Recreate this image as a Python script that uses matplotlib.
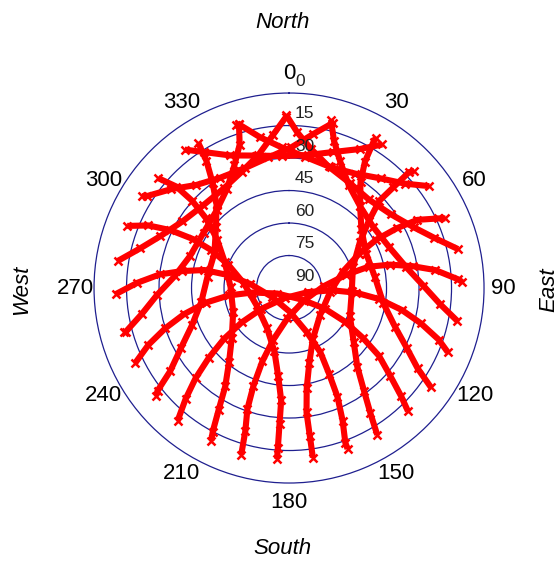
import matplotlib
matplotlib.use("Agg")
import matplotlib.pyplot as plt
import numpy as np

# satellite tracks, azimuth (deg, clockwise from north) and elevation (deg)
az_tracks = [
    [172, 172, 172, 170, 165, 155, 131, 96, 73, 64, 61, 61, 62, 65, 66],
    [343, 341, 336, 328, 317, 303, 288, 276, 267, 260, 255, 255],
    [149, 147, 144, 139, 130, 115, 93, 72, 57, 50, 46, 46, 46, 47],
    [328, 327, 324, 319, 310, 295, 278, 261, 249, 241, 235, 232, 231],
    [125, 122, 117, 110, 99, 83, 66, 51, 41, 34, 31, 30, 30],
    [310, 312, 312, 310, 304, 292, 271, 247, 229, 219, 213, 210, 208, 207],
    [101, 96, 89, 80, 68, 54, 41, 30, 22, 17, 14],
    [291, 294, 296, 297, 296, 291, 276, 242, 209, 193, 187, 184, 184, 184, 184],
    [77, 71, 64, 54, 42, 30, 18, 9, 3, 359],
    [268, 272, 276, 279, 282, 282, 276, 244, 178, 158, 154, 155, 156, 158, 160, 160],
    [54, 48, 40, 30, 19, 7, 357, 349, 343, 342],
    [244, 248, 252, 256, 260, 263, 263, 245, 132, 120, 121, 124, 127, 131, 134, 136],
    [33, 27, 18, 8, 357, 346, 336, 328, 323],
    [220, 223, 226, 229, 232, 234, 233, 203, 102, 93, 94, 97, 101, 105, 109, 112],
    [15, 9, 1, 351, 340, 328, 318, 310, 303, 302],
    [196, 197, 199, 200, 200, 197, 183, 130, 87, 77, 75, 77, 80, 83, 87, 88],
    [359, 354, 347, 338, 327, 314, 302, 292, 285, 279],
]
el_tracks = [
    [11, 21, 32, 43, 54, 64, 71, 71, 64, 54, 44, 33, 23, 14, 11],
    [11, 20, 28, 36, 41, 43, 42, 37, 29, 21, 12, 11],
    [11, 21, 31, 42, 51, 59, 61, 59, 51, 42, 32, 23, 13, 11],
    [11, 20, 30, 39, 46, 52, 52, 49, 42, 33, 23, 13, 11],
    [10, 20, 29, 38, 46, 50, 51, 47, 40, 31, 22, 12, 10],
    [11, 20, 30, 40, 50, 58, 63, 62, 55, 46, 36, 25, 15, 11],
    [11, 20, 28, 35, 40, 42, 40, 35, 27, 19, 10],
    [10, 19, 29, 40, 50, 60, 69, 73, 69, 60, 49, 38, 27, 16, 11],
    [10, 19, 26, 32, 35, 34, 31, 25, 18, 10],
    [10, 20, 30, 40, 50, 61, 72, 81, 79, 68, 57, 46, 35, 24, 14, 11],
    [10, 18, 24, 29, 31, 29, 25, 19, 11, 11],
    [11, 20, 30, 40, 51, 62, 73, 84, 82, 71, 60, 49, 38, 28, 18, 11],
    [11, 18, 24, 28, 29, 27, 23, 16, 10],
    [10, 20, 30, 41, 52, 63, 74, 85, 81, 70, 59, 48, 37, 27, 17, 11],
    [11, 18, 25, 29, 31, 30, 26, 19, 12, 10],
    [10, 21, 31, 42, 54, 65, 76, 81, 74, 63, 52, 42, 32, 22, 12, 10],
    [11, 19, 27, 32, 35, 35, 32, 26, 19, 10],
]
azimuth_labels = [0, 30, 60, 90, 120, 150, 180, 210, 240, 270, 300, 330]
elevation_rings = [0, 15, 30, 45, 60, 75, 90]

RING_COLOR = "#1f1f8f"
FONT = "Liberation Sans"


def setup_axes(fig):
    ax = fig.add_axes([0.1682, 0.1511, 0.6977, 0.6854], projection="polar")
    ax.set_theta_zero_location("N")
    ax.set_theta_direction(-1)
    ax.set_ylim(0, 90)
    ax.set_xticks([])
    ax.set_yticks([90 - e for e in elevation_rings[1:-1]])
    ax.set_yticklabels([])
    ax.yaxis.grid(True, color=RING_COLOR, linewidth=0.9)
    ax.xaxis.grid(False)
    ax.spines["polar"].set_color(RING_COLOR)
    ax.spines["polar"].set_linewidth(0.9)
    return ax


def draw_tracks(ax):
    for az, el in zip(az_tracks, el_tracks):
        theta = np.unwrap(np.radians(az))
        ax.plot(theta, 90 - np.array(el), color="red", linewidth=4.4, marker="x",
                markersize=6, markeredgewidth=1.8, solid_capstyle="butt")


def draw_labels(fig, ax):
    for deg in azimuth_labels:
        ax.text(np.radians(deg), 98.8, str(deg), ha="center", va="center", fontsize=16, family=FONT)
    for e in elevation_rings:
        ax.annotate(str(e), xy=(0, 90 - e), xytext=(4.3, 8.6), textcoords="offset points",
                    ha="left", va="center", fontsize=12.5, family=FONT, color="#222222")

    kw = dict(ha="center", va="center", fontsize=16, style="italic", family=FONT)
    fig.text(0.506, 0.9613, "North", **kw)
    fig.text(0.506, 0.0369, "South", **kw)
    fig.text(0.0394, 0.4903, "West", rotation=90, **kw)
    fig.text(0.982, 0.4903, "East", rotation=90, **kw)


def main():
    fig = plt.figure(figsize=(5.59, 5.69), dpi=100)
    ax = setup_axes(fig)
    draw_tracks(ax)
    draw_labels(fig, ax)
    fig.savefig("out.png", dpi=100)
    plt.close(fig)


main()
